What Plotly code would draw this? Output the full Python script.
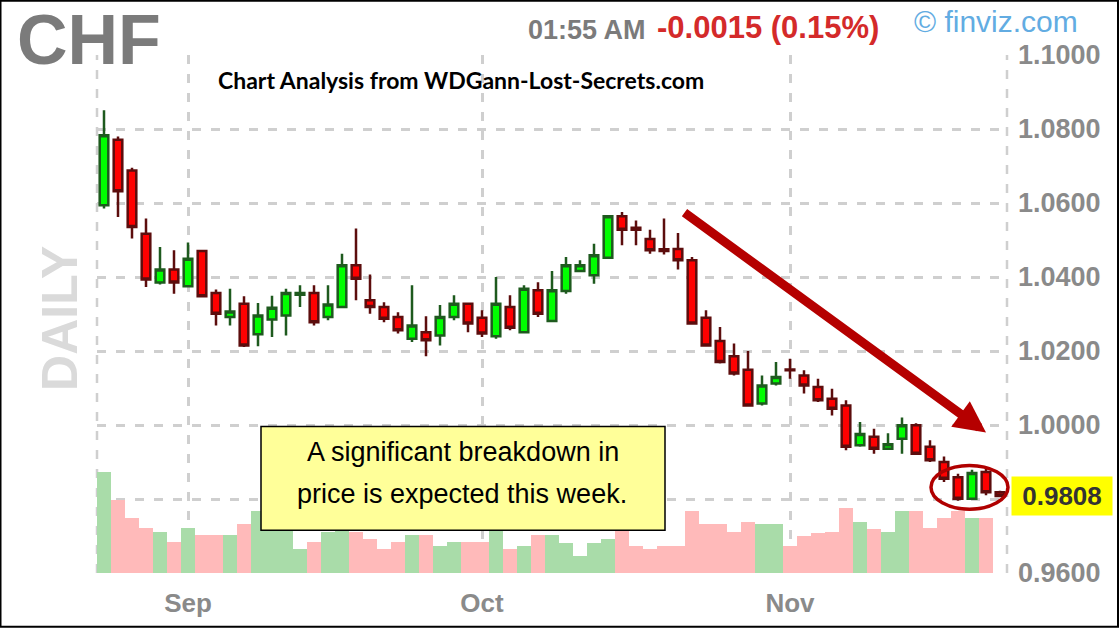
import pandas as pd
import plotly.graph_objects as go

# ---------------- data ----------------
dates = [d.strftime("%Y-%m-%d") for d in pd.bdate_range("2015-08-24", "2015-11-23")
         if d.strftime("%Y-%m-%d") != "2015-09-07"]

opens = [1.0594, 1.0771, 1.0688, 1.0517, 1.0385, 1.0420, 1.0375, 1.0470, 1.0357, 1.0292,
         1.0328, 1.0245, 1.0285, 1.0296, 1.0352, 1.0357, 1.0292, 1.0319, 1.0432, 1.0337,
         1.0319, 1.0292, 1.0233, 1.0251, 1.0242, 1.0292, 1.0328, 1.0290, 1.0240, 1.0319,
         1.0251, 1.0364, 1.0281, 1.0362, 1.0416, 1.0405, 1.0452, 1.0564, 1.0533, 1.0503,
         1.0475, 1.0476, 1.0445, 1.0290, 1.0227, 1.0186, 1.0149, 1.0058, 1.0112, 1.0150,
         1.0134, 1.0103, 1.0071, 1.0053, 0.9945, 0.9968, 0.9936, 0.9963, 0.9999, 0.9941,
         0.9900, 0.9859, 0.9801, 0.9873, 0.9818]
highs = [1.0851, 1.0780, 1.0695, 1.0558, 1.0481, 1.0472, 1.0493, 1.0472, 1.0366, 1.0368,
         1.0348, 1.0330, 1.0349, 1.0368, 1.0378, 1.0378, 1.0378, 1.0463, 1.0531, 1.0407,
         1.0332, 1.0305, 1.0378, 1.0294, 1.0324, 1.0351, 1.0330, 1.0310, 1.0400, 1.0351,
         1.0378, 1.0386, 1.0416, 1.0454, 1.0445, 1.0490, 1.0566, 1.0576, 1.0553, 1.0528,
         1.0558, 1.0519, 1.0454, 1.0310, 1.0265, 1.0220, 1.0200, 1.0134, 1.0170, 1.0179,
         1.0148, 1.0125, 1.0098, 1.0067, 1.0008, 0.9990, 0.9978, 1.0020, 1.0005, 0.9959,
         0.9915, 0.9868, 0.9879, 0.9882, 0.9822]
lows = [1.0585, 1.0562, 1.0504, 1.0373, 1.0380, 1.0355, 1.0372, 1.0346, 1.0269, 1.0269,
        1.0211, 1.0213, 1.0238, 1.0242, 1.0319, 1.0269, 1.0283, 1.0317, 1.0337, 1.0301,
        1.0278, 1.0247, 1.0224, 1.0186, 1.0215, 1.0283, 1.0251, 1.0238, 1.0233, 1.0256,
        1.0249, 1.0292, 1.0279, 1.0355, 1.0414, 1.0382, 1.0450, 1.0486, 1.0486, 1.0463,
        1.0461, 1.0420, 1.0272, 1.0213, 1.0166, 1.0134, 1.0051, 1.0053, 1.0107, 1.0125,
        1.0085, 1.0062, 1.0026, 0.9932, 0.9941, 0.9922, 0.9934, 0.9922, 0.9920, 0.9900,
        0.9846, 0.9795, 0.9799, 0.9810, 0.9805]
closes = [1.0783, 1.0632, 1.0535, 1.0393, 1.0420, 1.0385, 1.0449, 1.0348, 1.0301, 1.0307,
          1.0215, 1.0296, 1.0317, 1.0357, 1.0357, 1.0278, 1.0326, 1.0432, 1.0395, 1.0319,
          1.0287, 1.0256, 1.0269, 1.0229, 1.0292, 1.0328, 1.0274, 1.0247, 1.0328, 1.0263,
          1.0368, 1.0301, 1.0364, 1.0432, 1.0432, 1.0459, 1.0564, 1.0528, 1.0528, 1.0472,
          1.0470, 1.0445, 1.0274, 1.0215, 1.0170, 1.0139, 1.0053, 1.0107, 1.0130, 1.0148,
          1.0107, 1.0067, 1.0044, 0.9941, 0.9976, 0.9936, 0.9948, 0.9999, 0.9922, 0.9905,
          0.9855, 0.9801, 0.9870, 0.9818, 0.9808]
volumes = [50500, 36500, 27500, 22500, 20500, 15500, 22500, 19000, 19000, 19000,
           24500, 31000, 29000, 26000, 12000, 15500, 20500, 22000, 20500, 17000,
           12000, 15500, 19000, 19000, 13500, 15500, 15500, 15500, 25000, 12000,
           13500, 19000, 19000, 15000, 8500, 15000, 17000, 24000, 13500, 12000,
           13500, 13500, 31000, 24500, 24500, 20500, 25500, 24500, 24500, 13500,
           18500, 20000, 20500, 32500, 25500, 22000, 20500, 31000, 31000, 22500,
           27500, 31000, 27500, 27500, 0]

month_ticks = ["2015-09-01", "2015-10-01", "2015-11-02"]
month_labels = ["Sep", "Oct", "Nov"]
price_ticks = [0.96, 0.98, 1.00, 1.02, 1.04, 1.06, 1.08, 1.10]
last_price = 0.9808

# ---------------- styling helpers ----------------
L, R, T, B = 97, 112, 55, 55
W, H = 1119, 630
PW, PH = W - L - R, H - T - B


def px(x):
    return (x - L) / PW


def py(y):
    return (H - B - y) / PH


GRID = "#cfcfcf"
DASH = "9px,10px"
FONT = "Liberation Sans"

vol_colors = ["#a9dca9" if c > o else "#ffbaba" for o, c in zip(opens, closes)]
price_text = ["" if abs(v - 0.98) < 1e-9 else f"{v:.4f}" for v in price_ticks]

fig = go.Figure()
fig.add_trace(go.Bar(x=dates, y=volumes, marker=dict(color=vol_colors, line=dict(width=0)),
                     yaxis="y2", showlegend=False, hoverinfo="skip"))
fig.add_trace(go.Candlestick(
    x=dates, open=opens, high=highs, low=lows, close=closes,
    increasing=dict(line=dict(color="#1e5a1e", width=2.5), fillcolor="#00ff00"),
    decreasing=dict(line=dict(color="#5c0d0d", width=2.5), fillcolor="#ff0000"),
    whiskerwidth=0, showlegend=False))
# empty helper trace so that the box-layout gap setting is honoured
fig.add_trace(go.Box(x=[], y=[], showlegend=False, hoverinfo="skip"))

fig.update_layout(
    width=W, height=H, margin=dict(l=L, r=R, t=T, b=B),
    paper_bgcolor="white", plot_bgcolor="white",
    bargap=0, boxgap=0.12, boxmode="overlay",
    xaxis=dict(type="category", range=[-0.5, len(dates) - 0.5], tickmode="array",
               tickvals=month_ticks, ticktext=month_labels, showgrid=True,
               gridcolor=GRID, griddash=DASH, gridwidth=2.5, ticks="",
               zeroline=False, showline=False, rangeslider=dict(visible=False),
               ticklabelstandoff=12,
               tickfont=dict(family=FONT, size=26, color="#8a8a8a", weight="bold")),
    yaxis=dict(range=[0.96, 1.10], side="right", tickmode="array", tickvals=price_ticks,
               ticktext=price_text, showgrid=True, gridcolor=GRID, griddash=DASH,
               gridwidth=2.5, ticks="", zeroline=False, showline=False,
               ticklabelstandoff=10,
               tickfont=dict(family=FONT, size=27, color="#8a8a8a", weight="bold")),
    yaxis2=dict(overlaying="y", range=[0, 260000], visible=False, showgrid=False),
)

shapes = [
    dict(type="line", xref="paper", yref="paper", x0=0, x1=0, y0=0, y1=1,
         line=dict(color=GRID, width=2.5, dash=DASH), layer="below"),
    dict(type="line", xref="paper", yref="paper", x0=1, x1=1, y0=0, y1=1,
         line=dict(color=GRID, width=2.5, dash=DASH), layer="below"),
    # callout box
    dict(type="rect", xref="paper", yref="paper", x0=px(261), x1=px(665), y0=py(532), y1=py(428),
         fillcolor="#ffff99", line=dict(color="black", width=1.5), layer="above"),
    # ellipse
    dict(type="circle", xref="paper", yref="paper", x0=px(931), x1=px(1008), y0=py(511), y1=py(467),
         line=dict(color="#b00000", width=3.5), layer="above"),
    # outer border
    dict(type="rect", xref="paper", yref="paper", x0=px(0.5), x1=px(W - 1), y0=py(H - 1), y1=py(0.5),
         line=dict(color="black", width=2), layer="above"),
]
fig.update_layout(shapes=shapes)

ann = [
    dict(text="CHF", x=px(89), y=py(40), font=dict(family=FONT, size=70, color="#7b7b7b", weight="bold")),
    dict(text="DAILY", x=px(60), y=py(320), textangle=-90,
         font=dict(family=FONT, size=50, color="#dadada", weight="bold")),
    dict(text="01:55 AM", x=px(648), y=py(30), xanchor="right",
         font=dict(family=FONT, size=27, color="#7b7b7b", weight="bold")),
    dict(text="-0.0015 (0.15%)", x=px(655), y=py(27), xanchor="left",
         font=dict(family=FONT, size=31, color="#d42a2a", weight="bold")),
    dict(text="\u00a9 finviz.com", x=px(912), y=py(21), xanchor="left",
         font=dict(family=FONT, size=30, color="#62ace2")),
    dict(text="Chart Analysis from WDGann-Lost-Secrets.com", x=px(461), y=py(80),
         font=dict(family="Lato", size=23, color="black", weight="bold")),
    dict(text="A significant breakdown in", x=px(463), y=py(454),
         font=dict(family=FONT, size=27, color="black")),
    dict(text="price is expected this week.", x=px(462), y=py(496),
         font=dict(family=FONT, size=27, color="black")),
    # big arrow
    dict(text="", x=px(986), y=py(434), ax=683 - 986, ay=213 - 434, showarrow=True,
         arrowhead=2, arrowsize=0.7, arrowwidth=9, arrowcolor="#b50000", standoff=0),
]
for a in ann:
    a.setdefault("xref", "paper")
    a.setdefault("yref", "paper")
    a.setdefault("showarrow", False)
    a.setdefault("xanchor", "center")
    a.setdefault("yanchor", "middle")
fig.update_layout(annotations=ann)
fig.add_annotation(text="0.9808", xref="paper", yref="y", x=1, y=last_price, xanchor="left",
                   yanchor="middle", xshift=4, showarrow=False, bgcolor="#ffff00", borderpad=4,
                   width=92, font=dict(family=FONT, size=26, color="#333333", weight="bold"))

fig.write_html("out.html", config={"displayModeBar": False},
               post_script="document.body.style.margin='0';")
